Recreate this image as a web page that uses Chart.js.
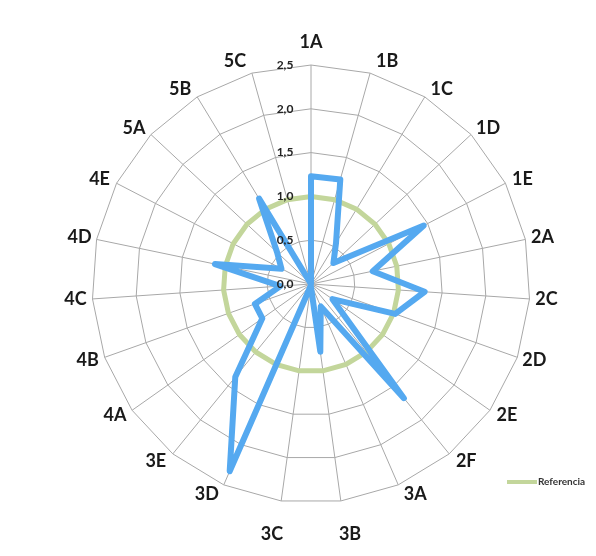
<!DOCTYPE html>
<html>
<head>
<meta charset="utf-8">
<script src="https://cdn.jsdelivr.net/npm/chart.js@4/dist/chart.umd.min.js"></script>
<style>
    body { margin: 0; background: #fff; }
    #wrap { position: relative; width: 596px; height: 556px; }
    #legend { position: absolute; left: 507px; top: 475px; font: bold 10px Lato, sans-serif; color: #333; white-space: nowrap; }
    #legend span { display: inline-block; width: 30px; height: 4px; background: #c3d69b; vertical-align: middle; margin-right: 1px; }
</style>
</head>
<body>
<div id="wrap">
    <canvas id="graph" width="596" height="556"></canvas>
    <div id="legend"><span></span>Referencia</div>
</div>
<script>
var categories = ['1A', '1B', '1C', '1D', '1E', '2A', '2C', '2D', '2E', '2F', '3A', '3B', '3C', '3D', '3E', '4A', '4B', '4C', '4D', '4E', '5A', '5B', '5C'];
var seriesValues = [1.23, 1.24, 0.55, 0.35, 1.45, 0.72, 1.30, 1.02, 0.30, 1.68, 0.28, 0.78, 0.02, 2.33, 1.37, 0.68, 0.68, 0.35, 1.12, 0.38, 0.53, 1.14, 0.00];
var referenceValues = [1, 1, 1, 1, 1, 1, 1, 1, 1, 1, 1, 1, 1, 1, 1, 1, 1, 1, 1, 1, 1, 1, 1];
var tickValues = [0, 0.5, 1, 1.5, 2, 2.5];
var tickLabels = ['0,0', '0,5', '1,0', '1,5', '2,0', '2,5'];

// axis labels placed like the spreadsheet does it: beside the spoke end,
// plus the value labels left of the 1A axis (0,0 included)
var labelPlugin = {
    id: 'excelLabels',
    afterDatasetsDraw: function (chart) {
        var scale = chart.scales.r;
        var ctx = chart.ctx;
        var R = scale.drawingArea;
        ctx.save();
        ctx.textAlign = 'center';
        ctx.textBaseline = 'middle';

        ctx.font = 'bold 18px Lato, sans-serif';
        ctx.fillStyle = '#1a1a1a';
        for (var i = 0; i < categories.length; i++) {
            var p = scale.getPointPosition(i, R);
            var dx = (p.x - scale.xCenter) / R;
            var dy = (p.y - scale.yCenter) / R;
            var side = Math.max(-1, Math.min(1, dx * 4));
            var x = p.x + 17 * side;
            // labels at the very top/bottom sit further out
            var extra = dy < 0 ? -14 * Math.pow(-dy, 40) : 35 * Math.pow(dy, 40);
            var y = scale.yCenter + (R + 9) * dy + extra;
            ctx.fillText(categories[i], x, y);
        }

        ctx.font = 'bold 12px Lato, sans-serif';
        ctx.fillStyle = '#222';
        for (var j = 0; j < tickValues.length; j++) {
            var d = scale.getDistanceFromCenterForValue(tickValues[j]);
            ctx.fillText(tickLabels[j], scale.xCenter - 26, scale.yCenter - d);
        }
        ctx.restore();
    }
};

var context = document.querySelector('#graph').getContext('2d');
var data = {
    labels: categories,
    datasets: [
        {
            label: 'Resultado',
            data: seriesValues,
            borderColor: '#55a9f0',
            borderWidth: 6,
            borderJoinStyle: 'round',
            backgroundColor: 'rgba(0,0,0,0)',
            fill: false,
            pointRadius: 0,
            tension: 0
        },
        {
            label: 'Referencia',
            data: referenceValues,
            borderColor: '#c3d69b',
            borderWidth: 5,
            backgroundColor: 'rgba(0,0,0,0)',
            fill: false,
            pointRadius: 0,
            tension: 0
        }
    ]
};
var options = {
    responsive: false,
    animation: false,
    layout: { padding: { left: 91, right: 65, top: 65, bottom: 52 } },
    plugins: {
        legend: { display: false },
        tooltip: { enabled: false }
    },
    scales: {
        r: {
            min: 0,
            max: 2.5,
            ticks: { stepSize: 0.5, display: false },
            grid: { color: '#a8a8a8', lineWidth: 1 },
            angleLines: { color: '#a8a8a8', lineWidth: 1 },
            pointLabels: { display: false }
        }
    }
};
var myRadarChart = new Chart(context, {
    type: 'radar',
    data: data,
    options: options,
    plugins: [labelPlugin]
});
</script>
</body>
</html>
